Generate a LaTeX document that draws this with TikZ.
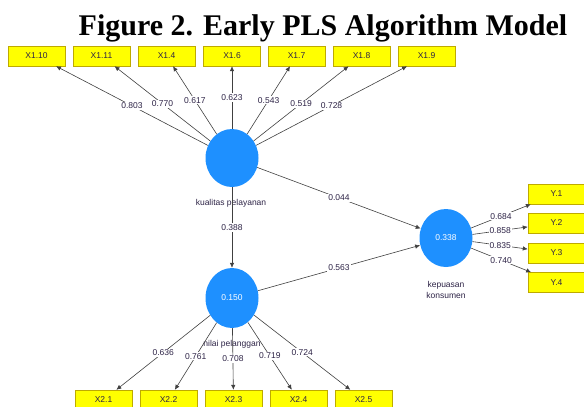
\documentclass[tikz,border=0pt]{standalone}
\usepackage{fontspec}
\setmainfont{Liberation Serif}
\setsansfont{Liberation Sans}
\usepackage{xcolor}
\usetikzlibrary{arrows.meta,shapes.geometric,positioning}
\definecolor{pls-blue}{RGB}{30,144,255}
\definecolor{pls-yellow}{RGB}{255,255,0}
\definecolor{pls-border}{RGB}{190,170,0}
\definecolor{pls-text}{RGB}{45,35,70}
\newcommand{\plsfont}{\sffamily\fontsize{8.5}{10}\selectfont}
\tikzset{
    indicator-box/.style = {draw=pls-border, fill=pls-yellow, rectangle, minimum width=57pt, minimum height=20pt, inner sep=0pt, text=pls-text, font=\plsfont},
    latent-var/.style = {ellipse, fill=pls-blue, minimum width=53pt, minimum height=58pt, inner sep=0pt, text=white, font=\plsfont},
    latent-caption/.style = {text=pls-text, font=\plsfont, align=center, inner sep=0pt},
    loading-label/.style = {fill=white, inner sep=1pt, text=pls-text, font=\plsfont},
    path-arrow/.style = {draw=black!75, line width=0.6pt, -{Latex[length=5pt, width=4.5pt]}},
}

\begin{document}
\begin{tikzpicture}[x=1pt, y=-1pt]
\useasboundingbox (0,0) rectangle (584,407);
\node[font=\bfseries\fontsize{30}{34}\selectfont, anchor=base] (title) at (323,35) {Figure 2. Early PLS Algorithm Model};

% latent variables
\node[latent-var] (kualitas) at (232,158) {};
\node[latent-var, minimum height=60pt] (nilai) at (232,298) {0.150};
\node[latent-var] (kepuasan) at (446,238) {0.338};
\node[latent-caption] (kualitas-caption) at (231,203) {kualitas pelayanan};
\node[latent-caption] (nilai-caption) at (232,344) {nilai pelanggan};
\node[latent-caption] (kepuasan-caption) at (446,289.5) {kepuasan\\[1pt]konsumen};

% indicators of kualitas pelayanan
\node[indicator-box] (x110) at (36.5,56) {X1.10};
\node[indicator-box] (x111) at (101.5,56) {X1.11};
\node[indicator-box] (x14) at (166.5,56) {X1.4};
\node[indicator-box] (x16) at (232,56) {X1.6};
\node[indicator-box] (x17) at (296.5,56) {X1.7};
\node[indicator-box] (x18) at (361.5,56) {X1.8};
\node[indicator-box] (x19) at (426.5,56) {X1.9};

% indicators of nilai pelanggan
\node[indicator-box] (x21) at (103.5,400) {X2.1};
\node[indicator-box] (x22) at (168.5,400) {X2.2};
\node[indicator-box] (x23) at (233.5,400) {X2.3};
\node[indicator-box] (x24) at (298.5,400) {X2.4};
\node[indicator-box] (x25) at (363.5,400) {X2.5};

% indicators of kepuasan konsumen
\node[indicator-box] (y1) at (556.5,194) {Y.1};
\node[indicator-box] (y2) at (556.5,223) {Y.2};
\node[indicator-box] (y3) at (556.5,253) {Y.3};
\node[indicator-box] (y4) at (556.5,282.5) {Y.4};

% outer loadings
\draw[path-arrow] (kualitas) -- node[loading-label] {0.803} (x110);
\draw[path-arrow] (kualitas) -- node[loading-label] {0.770} (x111);
\draw[path-arrow] (kualitas) -- node[loading-label] {0.617} (x14);
\draw[path-arrow] (kualitas) -- node[loading-label] {0.623} (x16);
\draw[path-arrow] (kualitas) -- node[loading-label] {0.543} (x17);
\draw[path-arrow] (kualitas) -- node[loading-label] {0.519} (x18);
\draw[path-arrow] (kualitas) -- node[loading-label] {0.728} (x19);

\draw[path-arrow] (nilai) -- node[loading-label] {0.636} (x21);
\draw[path-arrow] (nilai) -- node[loading-label] {0.761} (x22);
\draw[path-arrow] (nilai) -- node[loading-label] {0.708} (x23);
\draw[path-arrow] (nilai) -- node[loading-label] {0.719} (x24);
\draw[path-arrow] (nilai) -- node[loading-label] {0.724} (x25);

\draw[path-arrow] (kepuasan) -- node[loading-label] {0.684} (y1);
\draw[path-arrow] (kepuasan) -- node[loading-label] {0.858} (y2);
\draw[path-arrow] (kepuasan) -- node[loading-label] {0.835} (y3);
\draw[path-arrow] (kepuasan) -- node[loading-label] {0.740} (y4);

% path coefficients
\draw[path-arrow] (kualitas) -- node[loading-label] {0.388} (nilai);
\draw[path-arrow] (kualitas) -- node[loading-label] {0.044} (kepuasan);
\draw[path-arrow] (nilai) -- node[loading-label] {0.563} (kepuasan);
\end{tikzpicture}
\end{document}
